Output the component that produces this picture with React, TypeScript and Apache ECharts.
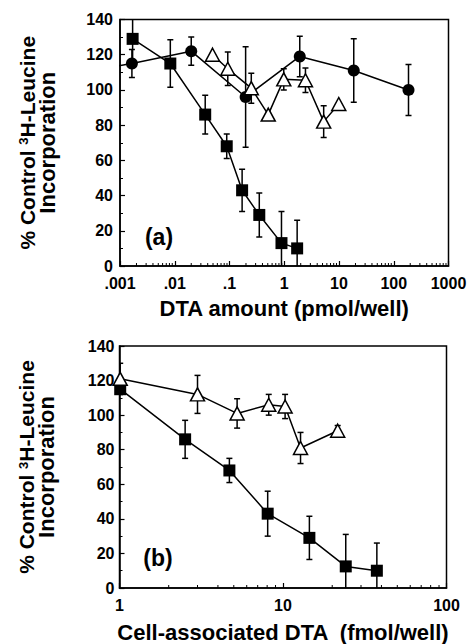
import React, { useEffect, useRef } from "react";
import * as echarts from "echarts";

// ---------- Data ----------
// Panel (a): DTA amount (pmol/well)
const aSquareX = [0.0017, 0.0083, 0.036, 0.089, 0.17, 0.35, 0.89, 1.72];
const aSquareY = [129, 115, 86, 68, 43, 29, 13, 10];
const aSquareErr = [12, 13.5, 11, 7, 12, 12.5, 18, 16];

const aCircleX = [0.0007, 0.00165, 0.02, 0.197, 1.92, 18.6, 186];
const aCircleY = [113, 115, 122, 96, 119, 111, 100];
const aCircleErr = [0, 8, 8, 28.5, 11.5, 18, 14.5];

const aTriX = [0.049, 0.093, 0.25, 0.51, 0.98, 2.44, 5.25, 9.9];
const aTriY = [120, 112, 101, 86, 106, 105.5, 82, 92];
const aTriErr = [0, 9.5, 8.5, 0, 6, 7, 9, 0];

// Panel (b): Cell-associated DTA (fmol/well)
const bSquareX = [1.01, 2.52, 4.7, 8.06, 14.5, 24.2, 37.5];
const bSquareY = [115, 86, 68, 43, 29, 12.5, 10];
const bSquareErr = [3, 11, 7, 13, 12.5, 18.5, 16];

const bTriX = [1.01, 3.0, 5.24, 8.18, 10.3, 12.8, 21.6];
const bTriY = [121, 112, 101, 106, 105, 81, 91];
const bTriErr = [9, 11, 8.5, 6, 7, 9, 3];

// Axis tick labels
const aXTickLabels = [".001", ".01", ".1", "1", "10", "100", "1000"];
const aXMinExp = -3;
const bXTickLabels = ["1", "10", "100"];
const bXMinExp = 0;
const yMin = 0;
const yMax = 140;
const yInterval = 20;

const aXTitle = "DTA amount (pmol/well)";
const bXTitle = "Cell-associated DTA  (fmol/well)";
const yTitle = "{t|% Control }{s|3}{t|H-Leucine}\n{u|Incorporation}";

const FONT = '"Liberation Sans", Arial, Helvetica, sans-serif';

function minorValues(minExp: number, maxExp: number) {
  const out: number[][] = [];
  for (let d = minExp; d < maxExp; d++) {
    for (let k = 2; k <= 9; k++) out.push([k * Math.pow(10, d), 0]);
  }
  return out;
}

function zip3(x: number[], y: number[], e: number[]) {
  return x.map((v, i) => [v, y[i], e[i]]);
}
function zip2(x: number[], y: number[]) {
  return x.map((v, i) => [v, y[i]]);
}

const errRender = (params: any, api: any) => {
  const x = api.value(0);
  const y = api.value(1);
  const e = api.value(2);
  if (!e) return null;
  const hi = Math.min(y + e, yMax);
  const lo = Math.max(y - e, yMin);
  const top = api.coord([x, hi]);
  const bot = api.coord([x, lo]);
  const children: any[] = [
    {
      type: "line",
      shape: { x1: top[0], y1: top[1], x2: bot[0], y2: bot[1] },
      style: { stroke: "#000", lineWidth: 1.5 },
    },
  ];
  if (y + e <= yMax)
    children.push({
      type: "line",
      shape: { x1: top[0] - 3, y1: top[1], x2: top[0] + 3, y2: top[1] },
      style: { stroke: "#000", lineWidth: 1.5 },
    });
  if (y - e >= yMin)
    children.push({
      type: "line",
      shape: { x1: bot[0] - 3, y1: bot[1], x2: bot[0] + 3, y2: bot[1] },
      style: { stroke: "#000", lineWidth: 1.5 },
    });
  return { type: "group", children };
};

const minorRender = (params: any, api: any) => {
  const p = api.coord([api.value(0), yMin]);
  return {
    type: "line",
    shape: { x1: p[0], y1: p[1], x2: p[0], y2: p[1] - 3 },
    style: { stroke: "#000", lineWidth: 1 },
  };
};

function xAxisFor(gridIndex: number, labels: string[], minExp: number, title: string, nameGap: number) {
  return {
    type: "log",
    logBase: 10,
    gridIndex,
    min: Math.pow(10, minExp),
    max: Math.pow(10, minExp + labels.length - 1),
    splitNumber: labels.length - 1,
    axisLine: { show: true, lineStyle: { color: "#000", width: 1.5 } },
    axisTick: { show: true, inside: true, length: 5, lineStyle: { color: "#000", width: 1.2 } },
    splitLine: { show: false },
    axisLabel: {
      margin: 9,
      color: "#000",
      fontFamily: FONT,
      fontWeight: "bold",
      fontSize: 16,
      formatter: (v: number) => labels[Math.round(Math.log10(v)) - minExp] ?? "",
    },
    name: title,
    nameLocation: "middle",
    nameGap,
    nameTextStyle: { color: "#000", fontFamily: FONT, fontWeight: "bold", fontSize: 22 },
  };
}

function yAxisFor(gridIndex: number, margin: number) {
  const base = { color: "#000", fontFamily: FONT, fontWeight: "bold" };
  return {
    type: "value",
    gridIndex,
    min: yMin,
    max: yMax,
    interval: yInterval,
    axisLine: { show: true, lineStyle: { color: "#000", width: 1.5 } },
    axisTick: { show: true, inside: true, length: 5, lineStyle: { color: "#000", width: 1.2 } },
    minorTick: { show: true, splitNumber: 2, length: 3, lineStyle: { color: "#000", width: 1 } },
    splitLine: { show: false },
    axisLabel: { margin, color: "#000", fontFamily: FONT, fontWeight: "bold", fontSize: 16 },
    name: yTitle,
    nameLocation: "middle",
    nameRotate: 90,
    nameGap: 63,
    nameTextStyle: {
      ...base,
      fontSize: 21,
      lineHeight: 20,
      rich: {
        t: { ...base, fontSize: 21, lineHeight: 20 },
        s: { ...base, fontSize: 13, lineHeight: 10, verticalAlign: "top" },
        u: { ...base, fontSize: 22, lineHeight: 20 },
      },
    },
  };
}

function lineSeries(xi: number, data: number[][], symbol: string, size: any, hollow: boolean) {
  return {
    type: "line",
    xAxisIndex: xi,
    yAxisIndex: xi,
    data,
    symbol,
    symbolSize: size,
    clip: true,
    z: 3,
    lineStyle: { color: "#000", width: 1.5 },
    itemStyle: hollow
      ? { color: "#fff", borderColor: "#000", borderWidth: 1.5 }
      : { color: "#000", borderColor: "#000", borderWidth: 0 },
  };
}

function errSeries(xi: number, data: number[][]) {
  return {
    type: "custom",
    xAxisIndex: xi,
    yAxisIndex: xi,
    data,
    renderItem: errRender,
    encode: { x: 0, y: 1 },
    clip: true,
    silent: true,
    z: 2,
  };
}

function minorSeries(xi: number, data: number[][]) {
  return {
    type: "custom",
    xAxisIndex: xi,
    yAxisIndex: xi,
    data,
    renderItem: minorRender,
    encode: { x: 0, y: 1 },
    silent: true,
    z: 1,
  };
}

export default function App() {
  const ref = useRef<HTMLDivElement>(null);
  useEffect(() => {
    if (!ref.current) return;
    const chart = echarts.init(ref.current, null, { renderer: "svg" });
    chart.setOption({
      animation: false,
      backgroundColor: "#fff",
      textStyle: { fontFamily: FONT },
      grid: [
        { left: 120, top: 19.5, width: 328.5, height: 246.5, show: true, borderColor: "#000", borderWidth: 1.5, containLabel: false },
        { left: 119.5, top: 346, width: 327, height: 243, show: true, borderColor: "#000", borderWidth: 1.5, containLabel: false },
      ],
      xAxis: [
        xAxisFor(0, aXTickLabels, aXMinExp, aXTitle, 31),
        xAxisFor(1, bXTickLabels, bXMinExp, bXTitle, 33),
      ],
      yAxis: [yAxisFor(0, 7), yAxisFor(1, 5)],
      graphic: [
        {
          type: "text",
          x: 159,
          y: 237,
          style: { text: "(a)", fill: "#000", fontFamily: FONT, fontWeight: "bold", fontSize: 23, align: "center", verticalAlign: "middle" },
        },
        {
          type: "text",
          x: 158,
          y: 558,
          style: { text: "(b)", fill: "#000", fontFamily: FONT, fontWeight: "bold", fontSize: 23, align: "center", verticalAlign: "middle" },
        },
      ],
      series: [
        minorSeries(0, minorValues(aXMinExp, aXMinExp + aXTickLabels.length - 1)),
        minorSeries(1, minorValues(bXMinExp, bXMinExp + bXTickLabels.length - 1)),
        errSeries(0, zip3(aSquareX, aSquareY, aSquareErr)),
        errSeries(0, zip3(aCircleX, aCircleY, aCircleErr)),
        errSeries(0, zip3(aTriX, aTriY, aTriErr)),
        errSeries(1, zip3(bSquareX, bSquareY, bSquareErr)),
        errSeries(1, zip3(bTriX, bTriY, bTriErr)),
        lineSeries(0, zip2(aSquareX, aSquareY), "rect", 12, false),
        lineSeries(0, zip2(aCircleX, aCircleY), "circle", 12, false),
        lineSeries(0, zip2(aTriX, aTriY), "triangle", [14, 13], true),
        lineSeries(1, zip2(bSquareX, bSquareY), "rect", 12, false),
        lineSeries(1, zip2(bTriX, bTriY), "triangle", [14, 13], true),
      ],
    });
    return () => chart.dispose();
  }, []);
  return (
    <div
      ref={ref}
      style={{ position: "fixed", left: 0, top: 0, width: 471, height: 644, background: "#fff" }}
    />
  );
}
